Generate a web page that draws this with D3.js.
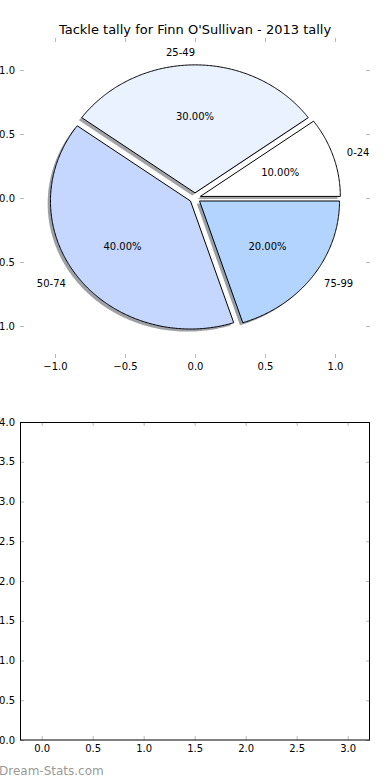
<html>
<head>
    <meta charset="utf-8">
    <script src="https://d3js.org/d3.v7.min.js"></script>
    <style>
        body { margin: 0; background: #fff; }
        text { font-family: "DejaVu Sans", sans-serif; }
    </style>
</head>
<body>
<script>
// data
var categories = ["0-24", "25-49", "50-74", "75-99"];
var tallies = [10, 30, 40, 20];
var sliceColors = ["#ffffff", "#eaf1ff", "#c5d7fe", "#b2d4fe"];
var pieTicks = [-1.0, -0.5, 0.0, 0.5, 1.0];
var emptyXTicks = [0.0, 0.5, 1.0, 1.5, 2.0, 2.5, 3.0];
var emptyYTicks = [0.0, 0.5, 1.0, 1.5, 2.0, 2.5, 3.0, 3.5, 4.0];

var w = 390, h = 780;
var explode = 0.04;
var tickGrey = "#b8b8b8";

var svg = d3.select("body").append("svg").attr("width", w).attr("height", h);

// ---------- top: pie ----------
var px = d3.scaleLinear().domain([-1.25, 1.25]).range([20, 370]);
var py = d3.scaleLinear().domain([-1.25, 1.25]).range([358, 38]);

var total = d3.sum(tallies);
var pie = d3.pie().sort(null).startAngle(0).endAngle(2 * Math.PI);
var arcs = pie(tallies);

var line = d3.line().x(function(d){ return px(d[0]); }).y(function(d){ return py(d[1]); });

function wedgePts(a, ox, oy) {
    var m = (a.startAngle + a.endAngle) / 2;
    var cx = explode * Math.cos(m) + ox, cy = explode * Math.sin(m) + oy;
    var pts = [[cx, cy]];
    var n = Math.max(8, Math.ceil((a.endAngle - a.startAngle) / 0.01));
    for (var i = 0; i <= n; i++) {
        var t = a.startAngle + (a.endAngle - a.startAngle) * i / n;
        pts.push([cx + Math.cos(t), cy + Math.sin(t)]);
    }
    return pts;
}

// shadows underneath all wedges
svg.append("g").selectAll("path").data(arcs).enter().append("path")
    .attr("d", function(d){ return line(wedgePts(d, -0.02, -0.02)) + "Z"; })
    .attr("fill", function(d, i){
        var c = d3.rgb(sliceColors[i]);
        return d3.rgb(c.r * 0.3, c.g * 0.3, c.b * 0.3);
    })
    .attr("fill-opacity", 0.5);

svg.append("g").selectAll("path").data(arcs).enter().append("path")
    .attr("d", function(d){ return line(wedgePts(d, 0, 0)) + "Z"; })
    .attr("fill", function(d, i){ return sliceColors[i]; })
    .attr("stroke", "#000").attr("stroke-width", 1).attr("stroke-linejoin", "miter");

// category labels at 1.1, percent labels at 0.6
svg.append("g").selectAll("text").data(arcs).enter().append("text")
    .attr("x", function(d){ var m = (d.startAngle + d.endAngle) / 2; return px((1.1 + explode) * Math.cos(m)); })
    .attr("y", function(d){ var m = (d.startAngle + d.endAngle) / 2; return py((1.1 + explode) * Math.sin(m)); })
    .attr("dy", "0.35em")
    .attr("text-anchor", function(d){ var m = (d.startAngle + d.endAngle) / 2; return Math.cos(m) > 0.001 ? "start" : "end"; })
    .attr("font-size", "10px")
    .text(function(d, i){ return categories[i]; });

svg.append("g").selectAll("text").data(arcs).enter().append("text")
    .attr("x", function(d){ var m = (d.startAngle + d.endAngle) / 2; return px((0.6 + explode) * Math.cos(m)); })
    .attr("y", function(d){ var m = (d.startAngle + d.endAngle) / 2; return py((0.6 + explode) * Math.sin(m)); })
    .attr("dy", "0.35em")
    .attr("text-anchor", "middle")
    .attr("font-size", "10px")
    .text(function(d){ return d3.format(".2f")(d.value / total * 100) + "%"; });

function styleAxis(g) {
    g.select(".domain").remove();
    g.selectAll(".tick line").attr("stroke", tickGrey);
    g.selectAll(".tick text").attr("fill", "#000").attr("font-size", "10px")
        .attr("font-family", "DejaVu Sans, sans-serif");
}

svg.append("g").attr("transform", "translate(0," + 358 + ")")
    .call(d3.axisBottom(px).tickValues(pieTicks).tickFormat(d3.format(".1f")).tickSizeInner(-4).tickSizeOuter(0).tickPadding(5))
    .call(styleAxis);
svg.append("g").attr("transform", "translate(0," + 38 + ")")
    .call(d3.axisTop(px).tickValues(pieTicks).tickFormat("").tickSizeInner(-4).tickSizeOuter(0))
    .call(styleAxis);
svg.append("g").attr("transform", "translate(" + 20 + ",0)")
    .call(d3.axisLeft(py).tickValues(pieTicks).tickFormat(d3.format(".1f")).tickSizeInner(-4).tickSizeOuter(0).tickPadding(5))
    .call(styleAxis);
svg.append("g").attr("transform", "translate(" + 370 + ",0)")
    .call(d3.axisRight(py).tickValues(pieTicks).tickFormat("").tickSizeInner(-4).tickSizeOuter(0))
    .call(styleAxis);

svg.append("text")
    .attr("x", 195).attr("y", 34)
    .attr("text-anchor", "middle")
    .attr("font-size", "13px")
    .text("Tackle tally for Finn O'Sullivan - 2013 tally");

// ---------- bottom: empty axes ----------
var bx = d3.scaleLinear().domain([-0.2125, 3.2188]).range([20, 370]);
var by = d3.scaleLinear().domain([0, 4]).range([740, 422]);

svg.append("g").attr("transform", "translate(0," + 740 + ")")
    .call(d3.axisBottom(bx).tickValues(emptyXTicks).tickFormat(d3.format(".1f")).tickSizeInner(-4).tickSizeOuter(0).tickPadding(5))
    .call(styleAxis);
svg.append("g").attr("transform", "translate(0," + 422 + ")")
    .call(d3.axisTop(bx).tickValues(emptyXTicks).tickFormat("").tickSizeInner(-4).tickSizeOuter(0))
    .call(styleAxis);
svg.append("g").attr("transform", "translate(" + 20 + ",0)")
    .call(d3.axisLeft(by).tickValues(emptyYTicks).tickFormat(d3.format(".1f")).tickSizeInner(-4).tickSizeOuter(0).tickPadding(5))
    .call(styleAxis);
svg.append("g").attr("transform", "translate(" + 370 + ",0)")
    .call(d3.axisRight(by).tickValues(emptyYTicks).tickFormat("").tickSizeInner(-4).tickSizeOuter(0))
    .call(styleAxis);

svg.append("rect")
    .attr("x", 20.5).attr("y", 422.5).attr("width", 349).attr("height", 317.5)
    .attr("fill", "none").attr("stroke", "#000").attr("stroke-width", 1);

// watermark
svg.append("text")
    .attr("x", -1).attr("y", 775)
    .attr("font-size", "12px")
    .attr("fill", "#9a9a9a")
    .text("Dream-Stats.com");
</script>
</body>
</html>
